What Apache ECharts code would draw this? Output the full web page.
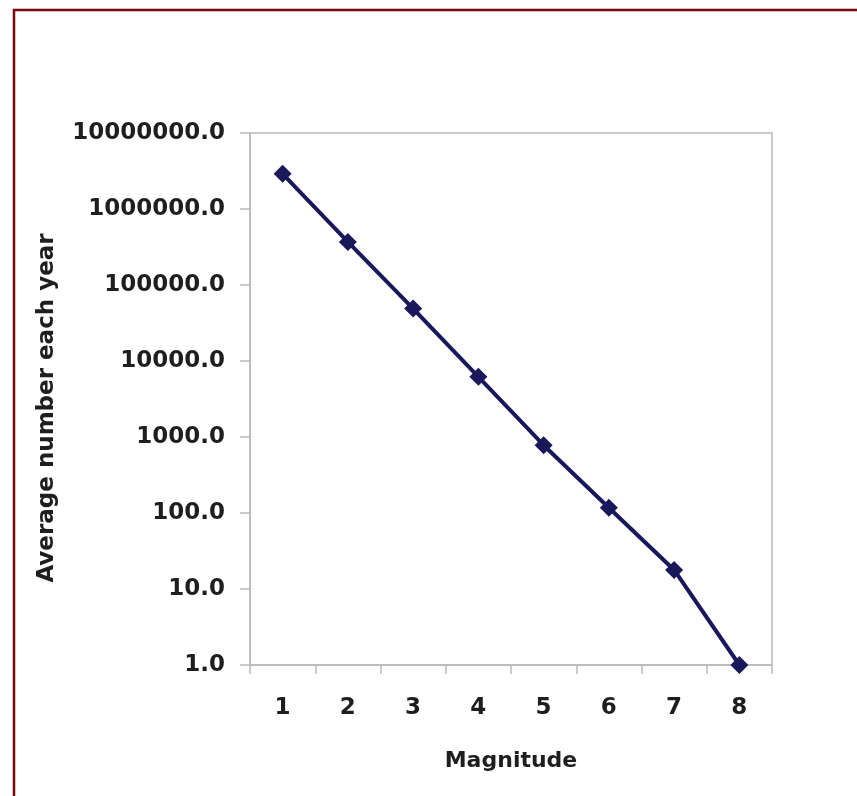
<!DOCTYPE html>
<html>
<head>
<meta charset="utf-8">
<script src="https://cdn.jsdelivr.net/npm/echarts@6/dist/echarts.min.js"></script>
<style>
html,body{margin:0;padding:0;background:#fff;}
#chart{width:857px;height:796px;}
</style>
</head>
<body>
<div id="chart"></div>
<script>
var magnitudes = ['1', '2', '3', '4', '5', '6', '7', '8'];
var averagePerYear = [2900000, 369000, 49000, 6200, 780, 117, 17.8, 1];
var yTickValues = [1, 10, 100, 1000, 10000, 100000, 1000000, 10000000];
var yTickLabels = ['1.0', '10.0', '100.0', '1000.0', '10000.0', '100000.0', '1000000.0', '10000000.0'];

var FONT = 'DejaVu Sans';
var TXT = '#1e1e1e';
var NAVY = '#18185a';
var AXIS = '#b9b9b9';

var chart = echarts.init(document.getElementById('chart'), null, {renderer: 'canvas'});
chart.setOption({
  animation: false,
  backgroundColor: '#ffffff',
  graphic: [{
    type: 'rect',
    shape: {x: 14, y: 10, width: 900, height: 900},
    style: {fill: 'none', stroke: '#7a0a0a', lineWidth: 2.5},
    silent: true
  }],
  grid: {
    left: 250, top: 133, right: 85, bottom: 131,
    show: true, borderColor: AXIS, borderWidth: 1.5, backgroundColor: 'transparent'
  },
  xAxis: {
    type: 'category',
    data: magnitudes,
    boundaryGap: true,
    name: 'Magnitude',
    nameLocation: 'middle',
    nameGap: 85,
    nameTextStyle: {fontFamily: FONT, fontWeight: 'bold', fontSize: 22, color: TXT},
    axisLine: {show: true, lineStyle: {color: AXIS, width: 1.5}},
    axisTick: {show: true, inside: false, length: 9, alignWithLabel: false, lineStyle: {color: AXIS, width: 1.5}},
    axisLabel: {fontFamily: FONT, fontWeight: 'bold', fontSize: 23, color: TXT, margin: 32},
    splitLine: {show: false}
  },
  yAxis: {
    type: 'log',
    logBase: 10,
    min: 1,
    max: 10000000,
    name: 'Average number each year',
    nameLocation: 'middle',
    nameGap: 191,
    nameTextStyle: {fontFamily: FONT, fontWeight: 'bold', fontSize: 23, color: TXT, padding: [0, 18, 0, 0]},
    axisLine: {show: true, lineStyle: {color: AXIS, width: 1.5}},
    axisTick: {show: true, inside: false, length: 10, lineStyle: {color: AXIS, width: 1.5}},
    axisLabel: {
      fontFamily: FONT, fontWeight: 'bold', fontSize: 23, color: TXT, margin: 25,
      formatter: function (v) {
        for (var i = 0; i < yTickValues.length; i++) {
          if (Math.abs(Math.log10(v) - Math.log10(yTickValues[i])) < 1e-6) return yTickLabels[i];
        }
        return v.toFixed(1);
      }
    },
    splitLine: {show: false},
    minorTick: {show: false}
  },
  series: [{
    type: 'line',
    data: averagePerYear,
    symbol: 'diamond',
    symbolSize: 18,
    showSymbol: true,
    lineStyle: {color: NAVY, width: 4},
    itemStyle: {color: NAVY},
    z: 5
  }]
});
</script>
</body>
</html>
